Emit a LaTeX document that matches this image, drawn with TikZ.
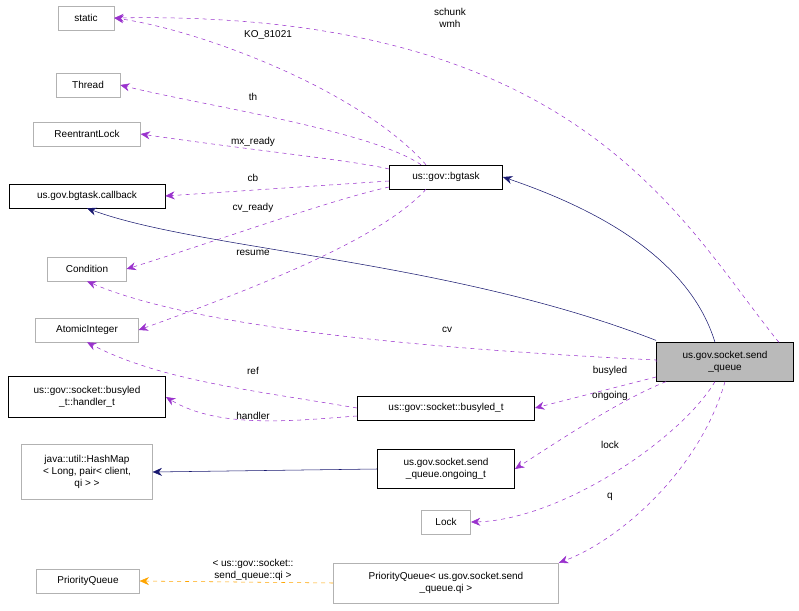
\documentclass[tikz,border=0pt]{standalone}
\usepackage{fontspec}
\setmainfont{Liberation Sans}
\usetikzlibrary{arrows.meta}
\definecolor{pur}{HTML}{9A32CD}
\definecolor{nav}{HTML}{191970}
\definecolor{org}{HTML}{FFA500}
\begin{document}
\begin{tikzpicture}[x=0.75pt,y=-0.75pt,
  every node/.style={font=\fontsize{7.5pt}{9pt}\selectfont},
  box/.style={draw=black!30,fill=white,inner sep=0pt,align=center,minimum height=18pt},
  bbox/.style={box,draw=black},
  dep/.style={pur,dashed,-{Stealth[length=7pt,width=6pt]}},
  inh/.style={nav,-{Stealth[length=7pt,width=6pt]}},
  tpl/.style={org,dashed,-{Stealth[length=7pt,width=6pt]}},
  lab/.style={text=black,align=center,inner sep=1pt}]
\useasboundingbox (0,0) rectangle (799,610);
\node[box,minimum width=42pt] (static) at (86,18) {static};
\node[box,minimum width=48pt] (thread) at (88,85) {Thread};
\node[box,minimum width=80pt] (rl) at (87,134) {ReentrantLock};
\node[bbox,minimum width=117pt] (cbk) at (87,196) {us.gov.bgtask.callback};
\node[box,minimum width=59pt] (cond) at (87,269) {Condition};
\node[box,minimum width=77pt] (ai) at (87,330) {AtomicInteger};
\node[bbox,minimum width=118pt,minimum height=31pt] (hnd) at (87,397) {us::gov::socket::busyled\\\_t::handler\_t};
\node[box,minimum width=98pt,minimum height=41pt] (hm) at (87,472) {java::util::HashMap\\< Long, pair< client,\\ qi > >};
\node[box,minimum width=37pt] (lock) at (446,522) {Lock};
\node[box,minimum width=77pt] (pq) at (88,581) {PriorityQueue};
\node[box,minimum width=169pt,minimum height=30pt] (pqq) at (446,583) {PriorityQueue< us.gov.socket.send\\\_queue.qi >};
\node[bbox,minimum width=85pt] (bg) at (446,177) {us::gov::bgtask};
\node[bbox,minimum width=133pt] (bl) at (446,408) {us::gov::socket::busyled\_t};
\node[bbox,minimum width=103pt,minimum height=29pt] (on) at (446,469) {us.gov.socket.send\\\_queue.ongoing\_t};
\node[bbox,fill=black!27,minimum width=103pt,minimum height=29pt] (sq) at (725,362) {us.gov.socket.send\\\_queue};

\draw[dep] (sq.north east) ++(-15,0) .. controls (680,220) and (580,10) .. (static.east);
\node[lab] (l1) at (450,18) {schunk\\wmh};
\draw[dep] (bg.north) ++(-20,0) .. controls (360,90) and (200,30) .. (static.east);
\node[lab] (l2) at (268,35) {KO\_81021};
\draw[dep] (bg.north) ++(-25,0) .. controls (370,130) and (200,105) .. (thread.east);
\node[lab] (l3) at (253,97) {th};
\draw[dep] (bg.west) ++(0,-8) .. controls (350,160) and (250,150) .. (rl.east);
\node[lab] (l4) at (253,142) {mx\_ready};
\draw[dep] (bg.west) ++(0,4) -- (cbk.east);
\node[lab] (l5) at (253,178) {cb};
\draw[dep] (bg.west) ++(0,10) .. controls (330,200) and (220,240) .. (cond.east);
\node[lab] (l6) at (253,208) {cv\_ready};
\draw[dep] (bg.south) ++(-20,0) .. controls (380,240) and (250,290) .. (ai.east);
\node[lab] (l7) at (253,253) {resume};
\draw[inh] (sq.north) ++(-10,0) .. controls (690,260) and (600,210) .. (bg.east);
\draw[inh] (sq.north west) ++(0,-2) .. controls (450,260) and (200,250) .. (cbk.south);
\draw[dep] (sq.west) -- ++(0,-2) .. controls (450,350) and (200,330) .. (cond.south);
\node[lab] (l8) at (447,330) {cv};
\draw[dep] (bl.west) .. controls (250,390) and (160,380) .. (ai.south);
\node[lab] (l9) at (253,371) {ref};
\draw[dep] (bl.west) ++(0,8) .. controls (300,420) and (220,430) .. (hnd.east);
\node[lab] (l10) at (253,416) {handler};
\draw[dep] (sq.west) ++(0,15) -- (bl.east);
\node[lab] (l11) at (610,371) {busyled};
\draw[dep] (sq.south west) ++(10,0) .. controls (620,400) and (560,440) .. (on.east);
\node[lab] (l12) at (610,396) {ongoing};
\draw[inh] (on.west) -- (hm.east);
\draw[dep] (sq.south) ++(-10,0) .. controls (680,440) and (560,520) .. (lock.east);
\node[lab] (l13) at (610,445) {lock};
\draw[dep] (sq.south) .. controls (700,470) and (620,540) .. (pqq.north east);
\node[lab] (l14) at (610,497) {q};
\draw[tpl] (pqq.west) -- (pq.east);
\node[lab] (l15) at (253,570) {< us::gov::socket::\\send\_queue::qi >};
\end{tikzpicture}
\end{document}
